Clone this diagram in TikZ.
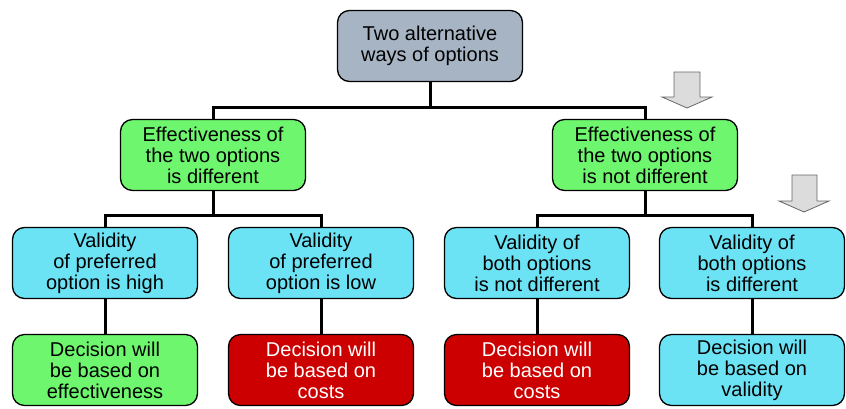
\documentclass[tikz,border=0pt]{standalone}
\usepackage{fontspec}
\setmainfont{Liberation Sans}
\definecolor{topc}{HTML}{A7B4C4}
\definecolor{grn}{HTML}{6EF76E}
\definecolor{cyn}{HTML}{6BE3F5}
\definecolor{rd}{HTML}{CC0000}
\definecolor{arr}{HTML}{DCDCDC}
\begin{document}
\begin{tikzpicture}[x=1pt,y=-1pt,
  box/.style={draw=black,line width=1.3pt,rounded corners=12pt,minimum width=185pt,minimum height=71pt,align=center,inner sep=2pt,font=\fontsize{20}{21}\selectfont},
  conn/.style={line width=3pt,draw=black},
  garrow/.style={fill=arr,draw=gray!80!black,line width=0.8pt}]
\useasboundingbox (0,0) rectangle (846,408);
\node[box,fill=topc] (top) at (430,46) {Two alternative\\ways of options};
\node[box,fill=grn] (gL) at (213,155) {Effectiveness of\\the two options\\is different};
\node[box,fill=grn] (gR) at (645,155) {Effectiveness of\\the two options\\is not different};
\node[box,fill=cyn] (c1) at (105,263) {Validity\\of preferred\\option is high};
\node[box,fill=cyn] (c2) at (321,263) {Validity\\of preferred\\option is low};
\node[box,fill=cyn] (c3) at (537,263) {Validity of\\both options\\is not different};
\node[box,fill=cyn] (c4) at (752,263) {Validity of\\both options\\is different};
\node[box,fill=grn] (d1) at (105,370) {Decision will\\be based on\\effectiveness};
\node[box,fill=rd,text=white] (d2) at (321,370) {Decision will\\be based on\\costs};
\node[box,fill=rd,text=white] (d3) at (537,370) {Decision will\\be based on\\costs};
\node[box,fill=cyn] (d4) at (752,370) {Decision will\\be based on\\validity};
\draw[conn] (top.south) -- ++(0,25) -| (gL.north);
\draw[conn] (top.south) -- ++(0,25) -| (gR.north);
\draw[conn] (gL.south) -- ++(0,24) -| (c1.north);
\draw[conn] (gL.south) -- ++(0,24) -| (c2.north);
\draw[conn] (gR.south) -- ++(0,24) -| (c3.north);
\draw[conn] (gR.south) -- ++(0,24) -| (c4.north);
\draw[conn] (c1) -- (d1);
\draw[conn] (c2) -- (d2);
\draw[conn] (c3) -- (d3);
\draw[conn] (c4) -- (d4);
\draw[garrow] (674,72) -- (700,72) -- (700,97) -- (712,97) -- (687,108) -- (662,97) -- (674,97) -- cycle;
\draw[garrow] (792,175) -- (817,175) -- (817,201) -- (829,201) -- (804,212) -- (779,201) -- (792,201) -- cycle;
\end{tikzpicture}
\end{document}
